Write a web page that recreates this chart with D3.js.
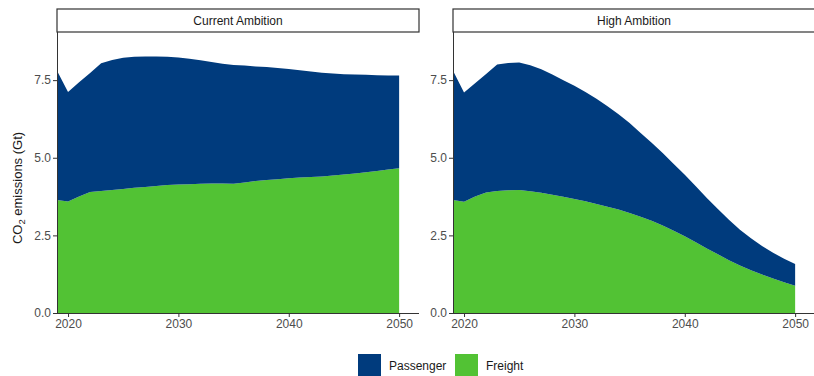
<!DOCTYPE html>
<meta charset="utf-8">
<style>
    body { margin: 0; background: #fff; }
    text { font-family: "Liberation Sans", Arial, sans-serif; }
    .axis path, .axis line { stroke: #333; }
    .axis text { fill: #4d4d4d; font-size: 12px; }
</style>
<body>
<script src="https://d3js.org/d3.v7.min.js"></script>
<script>
    const years = d3.range(2019, 2051);

    const scenarios = ["Current Ambition", "High Ambition"];
    const seriesNames = ["Passenger", "Freight"];

    // Current Ambition (Gt CO2)
    const currentFreight = [3.64, 3.59, 3.75, 3.90, 3.93, 3.96, 3.99, 4.03, 4.06, 4.09, 4.12, 4.14, 4.15, 4.16, 4.17, 4.17,
        4.16, 4.20, 4.25, 4.28, 4.31, 4.34, 4.36, 4.38, 4.40, 4.43, 4.46, 4.49, 4.53, 4.57, 4.62, 4.66];
    const currentPassenger = [4.16, 3.53, 3.68, 3.83, 4.11, 4.19, 4.23, 4.22, 4.20, 4.17, 4.13, 4.09, 4.04, 3.98, 3.91, 3.86,
        3.83, 3.77, 3.69, 3.64, 3.58, 3.52, 3.46, 3.40, 3.34, 3.28, 3.23, 3.19, 3.14, 3.09, 3.03, 2.99];

    // High Ambition (Gt CO2)
    const highFreight = [3.64, 3.58, 3.75, 3.88, 3.93, 3.95, 3.96, 3.92, 3.87, 3.81, 3.74, 3.67, 3.60, 3.51, 3.42, 3.33,
        3.22, 3.10, 2.97, 2.82, 2.65, 2.47, 2.28, 2.08, 1.89, 1.70, 1.53, 1.38, 1.24, 1.11, 0.99, 0.88];
    const highPassenger = [4.16, 3.52, 3.65, 3.82, 4.07, 4.10, 4.11, 4.06, 3.98, 3.87, 3.76, 3.65, 3.52, 3.39, 3.24, 3.07,
        2.90, 2.70, 2.51, 2.33, 2.15, 1.98, 1.80, 1.62, 1.46, 1.30, 1.15, 1.03, 0.92, 0.83, 0.76, 0.70];

    const xTicks = [2020, 2030, 2040, 2050];
    const yTicks = [0, 2.5, 5, 7.5];

    const colors = { Passenger: "#003b7d", Freight: "#52c234" };

    const panelData = [
        { name: scenarios[0], Freight: currentFreight, Passenger: currentPassenger, left: 57 },
        { name: scenarios[1], Freight: highFreight, Passenger: highPassenger, left: 453 }
    ];

    const panelWidth = 362,
        plotTop = 32,
        plotBottom = 313,
        stripTop = 9;

    const svg = d3.select("body").append("svg")
        .attr("width", 814)
        .attr("height", 376);

    const y = d3.scaleLinear().domain([0, 9.05]).range([plotBottom, plotTop]);

    panelData.forEach(p => {
        const x = d3.scaleLinear().domain([2019, 2051.8]).range([p.left, p.left + panelWidth]);

        const rows = years.map((yr, i) => ({ year: yr, Freight: p.Freight[i], Passenger: p.Passenger[i] }));
        // freight at the bottom, passenger stacked on top
        const stacked = d3.stack().keys(["Freight", "Passenger"])(rows);

        const area = d3.area()
            .x(d => x(d.data.year))
            .y0(d => y(d[0]))
            .y1(d => y(d[1]));

        svg.append("g").selectAll("path")
            .data(stacked)
            .join("path")
            .attr("fill", d => colors[d.key])
            .attr("d", area);

        // strip
        svg.append("rect")
            .attr("x", p.left)
            .attr("y", stripTop)
            .attr("width", panelWidth)
            .attr("height", plotTop - stripTop)
            .attr("fill", "#fff")
            .attr("stroke", "#333")
            .attr("stroke-width", 1.2);

        svg.append("text")
            .attr("x", p.left + panelWidth / 2)
            .attr("y", (stripTop + plotTop) / 2 + 4)
            .attr("text-anchor", "middle")
            .attr("fill", "#1a1a1a")
            .style("font-size", "12px")
            .text(p.name);

        // axes
        svg.append("g")
            .attr("class", "axis")
            .attr("transform", `translate(0,${plotBottom})`)
            .call(d3.axisBottom(x).tickValues(xTicks).tickFormat(d3.format("d")).tickSize(4).tickPadding(2))
            .call(g => g.select(".domain").attr("d", `M${p.left},0.5H${p.left + panelWidth}`));

        svg.append("g")
            .attr("class", "axis")
            .attr("transform", `translate(${p.left},0)`)
            .call(d3.axisLeft(y).tickValues(yTicks).tickFormat(d3.format(".1f")).tickSize(4).tickPadding(2))
            .call(g => g.select(".domain").attr("d", `M0.5,${plotTop}V${plotBottom}`));
    });

    // y axis title
    const yTitle = svg.append("text")
        .attr("transform", "translate(22,188) rotate(-90)")
        .attr("text-anchor", "middle")
        .attr("fill", "#1a1a1a")
        .style("font-size", "13px");
    yTitle.append("tspan").text("CO");
    yTitle.append("tspan").attr("dy", 3).style("font-size", "9.5px").text("2");
    yTitle.append("tspan").attr("dy", -3).text(" emissions (Gt)");

    // legend
    const legendItems = [
        { key: "Passenger", x: 358 },
        { key: "Freight", x: 455 }
    ];
    const legend = svg.append("g").selectAll("g")
        .data(legendItems)
        .join("g")
        .attr("transform", d => `translate(${d.x},354)`);
    legend.append("rect")
        .attr("width", 23)
        .attr("height", 23)
        .attr("fill", d => colors[d.key]);
    legend.append("text")
        .attr("x", 31)
        .attr("y", 16)
        .attr("fill", "#1a1a1a")
        .style("font-size", "12px")
        .text(d => d.key);
</script>
</body>
